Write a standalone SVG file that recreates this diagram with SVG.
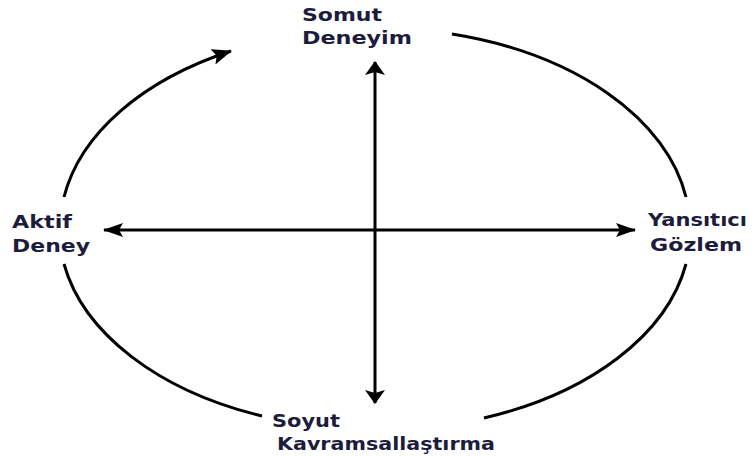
<svg xmlns="http://www.w3.org/2000/svg" width="755" height="456" viewBox="0 0 755 456">
<style>
.lbl{font-family:"DejaVu Sans","Verdana",sans-serif;font-weight:bold;font-size:18px;fill:#1c1c3c}
.ln{fill:none;stroke:#000;stroke-width:3}
</style>
<defs>
<marker id="av" markerUnits="userSpaceOnUse" markerWidth="14" markerHeight="20" viewBox="0 0 14 20" refX="13" refY="10" orient="auto-start-reverse">
<path d="M0,0 L14,10 L0,20 L3,10 Z" fill="#000"/>
</marker>
<marker id="ah" markerUnits="userSpaceOnUse" markerWidth="20" markerHeight="14" viewBox="0 0 20 14" refX="19" refY="7" orient="auto-start-reverse">
<path d="M0,0 L20,7 L0,14 L4,7 Z" fill="#000"/>
</marker>
<marker id="aa" markerUnits="userSpaceOnUse" markerWidth="20" markerHeight="16" viewBox="0 0 20 16" refX="19" refY="8" orient="auto">
<path d="M0,0 L20,8 L0,16 L4,8 Z" fill="#000"/>
</marker>
</defs>
<g id="connectors">
<line class="ln" x1="375" y1="62" x2="375" y2="403" marker-start="url(#av)" marker-end="url(#av)"/>
<line class="ln" x1="104" y1="230" x2="635" y2="230" marker-start="url(#ah)" marker-end="url(#ah)"/>
<path class="ln" d="M452,34 A315,200 0 0 1 686,197"/>
<path class="ln" d="M686,264 A315,200 0 0 1 484,418"/>
<path class="ln" d="M262,416 A315,200 0 0 1 64,264"/>
<path class="ln" d="M64,197 A315,200 0 0 1 231,51" marker-end="url(#aa)"/>
</g>
<g id="somut"><text class="lbl" x="302" y="21" textLength="80" lengthAdjust="spacingAndGlyphs">Somut</text><text class="lbl" x="302" y="44" textLength="110" lengthAdjust="spacingAndGlyphs">Deneyim</text></g>
<g id="aktif"><text class="lbl" x="12" y="228" textLength="60" lengthAdjust="spacingAndGlyphs">Aktif</text><text class="lbl" x="12" y="252" textLength="78" lengthAdjust="spacingAndGlyphs">Deney</text></g>
<g id="yansitici"><text class="lbl" x="648" y="226" textLength="99" lengthAdjust="spacingAndGlyphs">Yansıtıcı</text><text class="lbl" x="650" y="251" textLength="92" lengthAdjust="spacingAndGlyphs">Gözlem</text></g>
<g id="soyut"><text class="lbl" x="272" y="427" textLength="68" lengthAdjust="spacingAndGlyphs">Soyut</text><text class="lbl" x="277" y="450" textLength="218" lengthAdjust="spacingAndGlyphs">Kavramsallaştırma</text></g>
</svg>
